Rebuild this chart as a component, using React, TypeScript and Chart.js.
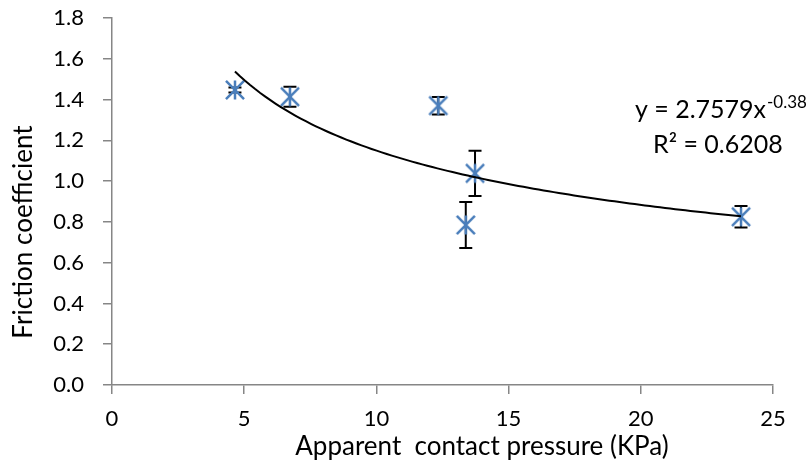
import React, { useEffect, useRef } from "react";
import { Chart, registerables } from "chart.js";
Chart.register(...registerables);

// Data
const pressure = [4.65, 6.73, 12.34, 13.73, 13.38, 23.79];
const friction = [1.447, 1.414, 1.37, 1.038, 0.785, 0.825];
const frictionErr = [0.012, 0.049, 0.043, 0.111, 0.113, 0.053];
const xTicks = [0, 5, 10, 15, 20, 25];
const yTicks = [0, 0.2, 0.4, 0.6, 0.8, 1.0, 1.2, 1.4, 1.6, 1.8];
// Power trendline as shown in the chart: y = a * x^b
const fitA = 2.7579;
const fitB = -0.38;
const fitLabel = "y = 2.7579x";
const fitExpLabel = "-0.38";
const r2Label = "R\u00B2 = 0.6208";
const xTitle = "Apparent  contact pressure (KPa)";
const yTitle = "Friction coefficient";

const FONT = "Lato, 'Open Sans', sans-serif";
const BLUE = "#4A7EBB";
const GRAY = "#868686";

function makeMarker(): HTMLCanvasElement {
  const c = document.createElement("canvas");
  const s = 22;
  c.width = s;
  c.height = s;
  const g = c.getContext("2d")!;
  g.strokeStyle = BLUE;
  g.lineWidth = 2.5;
  g.lineCap = "butt";
  const m = s / 2;
  const r = 9.5;
  g.beginPath();
  g.moveTo(m - r * 0.95, m - r * 0.95);
  g.lineTo(m + r * 0.95, m + r * 0.95);
  g.moveTo(m + r * 0.95, m - r * 0.95);
  g.lineTo(m - r * 0.95, m + r * 0.95);
  g.moveTo(m, m - r);
  g.lineTo(m, m + r);
  g.stroke();
  return c;
}

export default function App() {
  const ref = useRef<HTMLCanvasElement>(null);
  useEffect(() => {
    const canvas = ref.current!;
    const xmin = Math.min(...pressure);
    const xmax = Math.max(...pressure);
    const trend: { x: number; y: number }[] = [];
    const n = 100;
    for (let i = 0; i <= n; i++) {
      const x = xmin + ((xmax - xmin) * i) / n;
      trend.push({ x, y: fitA * Math.pow(x, fitB) });
    }
    const pts = pressure.map((x, i) => ({ x, y: friction[i] }));
    const marker = makeMarker();

    const errorBars = {
      id: "errorBars",
      beforeDatasetsDraw(chart: any) {
        const ctx = chart.ctx;
        const xs = chart.scales.x;
        const ys = chart.scales.y;
        ctx.save();
        ctx.strokeStyle = "#000";
        ctx.lineWidth = 2;
        pressure.forEach((xv, i) => {
          const px = xs.getPixelForValue(xv);
          const top = ys.getPixelForValue(friction[i] + frictionErr[i]);
          const bot = ys.getPixelForValue(friction[i] - frictionErr[i]);
          ctx.beginPath();
          ctx.moveTo(px, top);
          ctx.lineTo(px, bot);
          ctx.moveTo(px - 6.5, top);
          ctx.lineTo(px + 6.5, top);
          ctx.moveTo(px - 6.5, bot);
          ctx.lineTo(px + 6.5, bot);
          ctx.stroke();
        });
        ctx.restore();
      },
    };

    const texts = {
      id: "texts",
      afterDraw(chart: any) {
        const ctx = chart.ctx;
        ctx.save();
        ctx.fillStyle = "#000";
        // trendline equation
        ctx.textBaseline = "alphabetic";
        ctx.textAlign = "left";
        ctx.font = `25px ${FONT}`;
        const x1 = 635;
        ctx.fillText(fitLabel, x1, 118);
        const w = ctx.measureText(fitLabel).width;
        ctx.font = `17px ${FONT}`;
        ctx.fillText(fitExpLabel, x1 + w + 1, 108);
        ctx.font = `25px ${FONT}`;
        ctx.fillText(r2Label, 653, 153);
        // axis titles
        ctx.textAlign = "center";
        ctx.textBaseline = "middle";
        ctx.font = `26px ${FONT}`;
        ctx.fillText(xTitle, 482, 447);
        ctx.translate(24, 232);
        ctx.rotate(-Math.PI / 2);
        ctx.fillText(yTitle, 0, 0);
        ctx.restore();
      },
    };

    const chart = new Chart(canvas, {
      type: "scatter",
      data: {
        datasets: [
          {
            label: "trend",
            data: trend,
            showLine: true,
            borderColor: "#000",
            borderWidth: 2,
            pointRadius: 0,
            fill: false,
            tension: 0,
          },
          {
            label: "Friction",
            data: pts,
            pointStyle: marker as any,
            pointRadius: 10,
            showLine: false,
          },
        ],
      },
      options: {
        animation: false,
        responsive: false,
        layout: { padding: { top: 18, right: 33, left: 0, bottom: 0 } },
        plugins: { legend: { display: false }, tooltip: { enabled: false } },
        scales: {
          x: {
            type: "linear",
            min: 0,
            max: 25,
            afterBuildTicks: (s: any) => {
              s.ticks = xTicks.map((v) => ({ value: v }));
            },
            afterFit: (s: any) => {
              s.height = 78;
              s.paddingLeft = 0;
              s.paddingRight = 0;
              s.paddingTop = 0;
              s.paddingBottom = 0;
            },
            ticks: {
              color: "#000",
              font: { family: FONT, size: 22 },
              padding: 12,
              maxRotation: 0,
              autoSkip: false,
              callback: (v: any) => String(v),
            },
            grid: {
              drawOnChartArea: false,
              drawTicks: true,
              tickLength: 9,
              color: GRAY,
              lineWidth: 1.5,
            },
            border: { display: true, color: GRAY, width: 1.5 },
            title: { display: false },
          },
          y: {
            type: "linear",
            min: 0,
            max: 1.8,
            afterBuildTicks: (s: any) => {
              s.ticks = yTicks.map((v) => ({ value: v }));
            },
            afterFit: (s: any) => {
              s.width = 112;
              s.paddingLeft = 0;
              s.paddingRight = 0;
              s.paddingTop = 0;
              s.paddingBottom = 0;
            },
            ticks: {
              color: "#000",
              font: { family: FONT, size: 22 },
              padding: 19,
              autoSkip: false,
              callback: (v: any) => Number(v).toFixed(1),
            },
            grid: {
              drawOnChartArea: false,
              drawTicks: true,
              tickLength: 9,
              color: GRAY,
              lineWidth: 1.5,
            },
            border: { display: true, color: GRAY, width: 1.5 },
            title: { display: false },
          },
        },
      },
      plugins: [errorBars, texts],
    } as any);
    return () => chart.destroy();
  }, []);
  return (
    <div style={{ position: "fixed", left: 0, top: 0, width: 806, height: 463, background: "#fff" }}>
      <canvas ref={ref} width={806} height={463} style={{ width: 806, height: 463, display: "block" }} />
    </div>
  );
}
